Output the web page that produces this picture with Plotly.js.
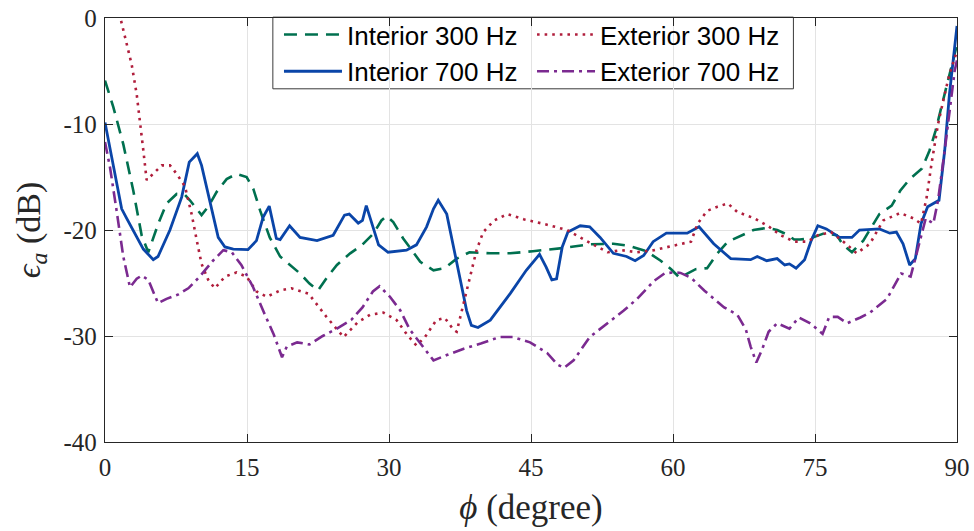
<!DOCTYPE html>
<html>
<head>
<meta charset="utf-8">
<script src="https://cdn.plot.ly/plotly-3.0.1.min.js"></script>
<style>html,body{margin:0;padding:0;background:#fff;}#chart{width:974px;height:531px;}</style>
</head>
<body>
<div id="chart"></div>
<script>
// ---- Data (phi in degrees, epsilon_a in dB) ----
const xTickVals = [0, 15, 30, 45, 60, 75, 90];
const yTickVals = [0, -10, -20, -30, -40];
const yTickText = ["0", "-10", "-20", "-30", "-40"];

const seriesNames = ["Interior 300 Hz", "Interior 700 Hz", "Exterior 300 Hz", "Exterior 700 Hz"];

const in300X = [0, 0.88, 1.93, 2.99, 3.87, 4.57, 5.63, 6.5, 7.57, 8.45, 8.97, 10.2, 10.9, 11.8, 12.85, 13.9, 14.96, 15.66, 16.4, 17.4, 18.5, 19.5, 20.6, 21.6, 22.5, 23.6, 24.5, 25.9, 27.1, 28.35, 29.2, 29.75, 30.45, 31.5, 33.3, 34.7, 35.9, 37.15, 38.5, 40.7, 42.8, 45.2, 48.4, 51.2, 53.7, 55.4, 57.2, 58.7, 59.8, 60.7, 62.4, 63.6, 64.7, 65.8, 67.2, 68.5, 69.9, 71.0, 72.0, 72.8, 73.4, 74.5, 76.0, 77.3, 78.0, 78.9, 80.1, 81.8, 83.1, 84.0, 85.0, 86.3, 87.1, 87.75, 88.35, 89.05, 89.65, 90];
const in300Y = [-5.9, -8.4, -11.9, -16.3, -20.5, -22.1, -19.4, -17.5, -16.6, -16.7, -17.2, -18.6, -17.8, -16.4, -15.2, -14.7, -15.0, -16.1, -18.2, -20.7, -22.5, -23.3, -24.1, -25.05, -25.7, -24.3, -23.3, -22.2, -21.45, -20.35, -19.1, -18.7, -19.25, -20.8, -23.0, -23.8, -23.6, -22.7, -22.1, -22.2, -22.2, -22.0, -21.7, -21.35, -21.3, -21.5, -22.0, -22.9, -23.7, -24.5, -23.7, -23.6, -22.2, -21.1, -20.5, -20.0, -19.8, -20.0, -20.4, -20.9, -20.9, -20.8, -20.3, -20.5, -21.45, -22.1, -21.0, -18.5, -17.7, -16.3, -15.2, -14.2, -12.5, -10.6, -8.4, -5.9, -3.7, -2.5];

const in700X = [0, 1.76, 2.29, 4.05, 5.1, 5.6, 6.86, 8.1, 8.9, 9.75, 10.2, 11.1, 11.96, 12.67, 13.55, 15.1, 16.0, 16.7, 17.35, 18.1, 18.5, 19.5, 20.6, 22.4, 24.1, 25.3, 25.8, 26.75, 27.2, 27.6, 28.2, 28.9, 29.9, 31.85, 32.9, 33.97, 34.7, 35.2, 36.1, 37.15, 38.2, 38.7, 39.4, 40.7, 42.8, 44.5, 45.9, 46.6, 47.2, 47.7, 48.3, 48.9, 50.2, 51.2, 52.3, 53.7, 55.1, 56.0, 56.9, 57.9, 59.3, 60.7, 61.5, 62.75, 64.3, 66.1, 68.2, 68.9, 69.9, 71.0, 71.8, 72.3, 73.0, 73.9, 74.6, 75.3, 76.2, 77.6, 78.9, 79.7, 81.8, 82.9, 83.6, 84.3, 85.0, 85.6, 86.2, 86.9, 87.7, 88.1, 88.7, 89.2, 90];
const in700Y = [-9.85, -18.0, -18.9, -21.8, -22.8, -22.5, -20.0, -16.9, -13.6, -12.8, -13.9, -17.5, -20.7, -21.6, -21.8, -21.85, -21.0, -18.8, -17.75, -20.8, -20.9, -19.6, -20.7, -21.0, -20.5, -18.6, -18.5, -19.35, -19.1, -17.7, -19.4, -21.4, -22.1, -21.9, -21.4, -19.7, -18.0, -17.2, -18.5, -23.2, -27.6, -29.0, -29.2, -28.5, -26.0, -23.8, -22.3, -23.5, -24.7, -24.6, -21.6, -20.2, -19.6, -19.7, -20.7, -22.2, -22.5, -22.9, -22.4, -21.1, -20.3, -20.3, -20.3, -19.7, -21.3, -22.7, -22.8, -22.5, -22.9, -22.7, -23.3, -23.2, -23.6, -22.8, -21.0, -19.6, -19.9, -20.7, -20.7, -20.0, -19.9, -20.3, -20.2, -21.3, -23.3, -22.7, -19.4, -17.8, -17.4, -17.2, -12.5, -7.2, -0.75];

const ex300X = [0, 0.8, 1.58, 2.29, 2.82, 3.35, 3.7, 4.05, 4.4, 5.1, 6.0, 6.86, 7.57, 8.45, 9.15, 9.7, 10.2, 10.9, 11.6, 12.67, 13.9, 14.96, 16.0, 17.1, 18.5, 19.7, 21.5, 23.4, 25.2, 26.7, 28.0, 29.4, 30.8, 31.85, 32.9, 33.8, 35.0, 35.9, 36.8, 37.15, 37.9, 38.6, 39.25, 39.95, 41.1, 42.5, 44.3, 46.7, 48.8, 51.0, 53.1, 54.5, 56.2, 58.0, 59.8, 61.9, 62.6, 63.6, 64.7, 65.8, 66.8, 68.6, 70.0, 71.4, 72.8, 74.2, 75.3, 76.7, 78.0, 79.4, 80.8, 82.2, 84.0, 85.4, 86.2, 86.8, 87.3, 88.0, 88.7, 89.2, 89.9];
const ex300Y = [6, 3, 0.2, -2.5, -4.4, -7.2, -9.7, -12.5, -15.3, -14.7, -13.9, -13.9, -14.7, -15.9, -18.5, -21.0, -23.2, -24.7, -25.5, -24.4, -24.0, -24.4, -25.8, -26.3, -25.7, -25.5, -26.0, -28.2, -30.1, -28.7, -28.0, -27.8, -28.5, -29.8, -30.9, -30.1, -28.5, -28.3, -29.4, -29.6, -26.9, -24.4, -21.9, -20.2, -19.1, -18.5, -19.0, -19.5, -20.0, -21.1, -22.1, -21.9, -22.1, -21.9, -21.5, -21.1, -19.4, -18.2, -17.8, -17.5, -18.3, -18.9, -19.6, -20.5, -21.1, -21.1, -20.5, -20.2, -21.1, -22.2, -21.3, -19.1, -18.4, -18.9, -19.4, -16.9, -13.8, -10.0, -7.2, -5.3, -3.4];

const ex700X = [0, 0.53, 1.23, 1.93, 2.64, 3.35, 3.87, 4.57, 5.6, 6.5, 7.7, 8.8, 10.0, 11.4, 12.5, 13.4, 14.4, 15.65, 16.7, 17.8, 18.7, 19.2, 20.3, 21.6, 23.0, 24.5, 26.0, 27.2, 28.3, 29.0, 30.1, 31.2, 32.2, 33.5, 34.7, 36.1, 37.9, 39.7, 41.7, 43.1, 44.9, 46.7, 47.8, 48.5, 49.5, 51.2, 53.1, 54.8, 56.2, 58.0, 59.1, 60.1, 60.8, 61.9, 63.3, 64.3, 65.4, 66.8, 67.7, 68.2, 68.8, 69.4, 70.1, 71.0, 72.3, 73.3, 74.5, 75.8, 76.5, 77.4, 78.4, 79.8, 80.8, 82.6, 84.1, 85.1, 85.8, 86.7, 87.5, 88.0, 88.7, 89.2, 89.75, 90];
const ex700Y = [-11.7, -14.1, -18.2, -22.5, -25.4, -24.6, -24.3, -24.7, -26.9, -26.5, -26.1, -25.5, -24.4, -22.9, -21.9, -22.1, -23.3, -25.4, -27.6, -29.8, -32.0, -31.0, -30.6, -30.8, -30.0, -29.3, -28.5, -27.3, -25.8, -25.3, -26.3, -27.6, -29.4, -30.9, -32.3, -31.8, -31.2, -30.7, -30.1, -30.1, -30.6, -31.6, -32.7, -33.0, -32.3, -30.1, -28.8, -27.6, -26.5, -24.8, -24.1, -24.0, -24.05, -24.5, -25.7, -26.5, -27.3, -28.0, -29.4, -31.0, -32.5, -31.3, -29.6, -28.8, -29.3, -28.25, -28.8, -29.8, -28.2, -28.2, -28.8, -28.25, -27.8, -26.5, -24.1, -24.4, -21.9, -18.9, -19.4, -17.2, -12.5, -8.75, -5.0, -4.0];

// ---- Traces ----
const traces = [
  {x: in300X, y: in300Y, name: seriesNames[0], legend: "legend", legendgroup: "a",
   mode: "lines", line: {color: "#00704f", width: 2.6, dash: "13px,8px"}},
  {x: in700X, y: in700Y, name: seriesNames[1], legend: "legend", legendgroup: "b",
   mode: "lines", line: {color: "#0a45a8", width: 2.8}},
  {x: ex300X, y: ex300Y, name: seriesNames[2], legend: "legend2", legendgroup: "c",
   mode: "lines", line: {color: "#b01e3c", width: 2.6, dash: "2.6px,5px"}},
  {x: ex700X, y: ex700Y, name: seriesNames[3], legend: "legend2", legendgroup: "d",
   mode: "lines", line: {color: "#7b2a90", width: 2.6, dash: "12px,5px,3px,5px"}}
];

const axisCommon = {
  showline: true, linecolor: "#262626", linewidth: 1.2, mirror: "ticks",
  ticks: "inside", ticklen: 8, tickcolor: "#262626", tickwidth: 1,
  showgrid: true, gridcolor: "#e3e3e3", gridwidth: 1, zeroline: false,
  tickfont: {family: "Liberation Serif, serif", size: 25, color: "#262626"}
};

const legendCommon = {
  orientation: "v", bgcolor: "rgba(0,0,0,0)", borderwidth: 0,
  font: {family: "Liberation Sans, Arial, sans-serif", size: 26, color: "#000"},
  traceorder: "grouped", tracegroupgap: 0, yanchor: "top", y: 1.014, xanchor: "left",
  itemwidth: 58
};

const layout = {
  width: 974, height: 531,
  margin: {l: 105, r: 17, t: 17, b: 89},
  paper_bgcolor: "#fff", plot_bgcolor: "#fff",
  showlegend: true,
  xaxis: Object.assign({}, axisCommon, {
    range: [0, 90], tickvals: xTickVals, ticktext: xTickVals.map(String),
    ticklabelstandoff: 3,
    title: {text: "<i>ϕ</i> (degree)", font: {family: "Liberation Serif, serif", size: 35, color: "#262626"}, standoff: 14}
  }),
  yaxis: Object.assign({}, axisCommon, {
    range: [-40, 0], tickvals: yTickVals, ticktext: yTickText,
    ticklabelstandoff: 2,
    title: {text: "<i>ϵ</i><sub><i>a</i></sub> (dB)", font: {family: "Liberation Serif, serif", size: 34, color: "#262626"}, standoff: 12}
  }),
  legend: Object.assign({}, legendCommon, {x: 0.2042}),
  legend2: Object.assign({}, legendCommon, {x: 0.5012}),
  shapes: [{
    type: "rect", xref: "paper", yref: "paper",
    x0: 0.197, x1: 0.808, y0: 0.833, y1: 1.002,
    line: {color: "#3a3a3a", width: 1}, fillcolor: "#ffffff", layer: "below"
  }]
};

Plotly.newPlot("chart", traces, layout, {displayModeBar: false, staticPlot: true});
</script>
</body>
</html>
